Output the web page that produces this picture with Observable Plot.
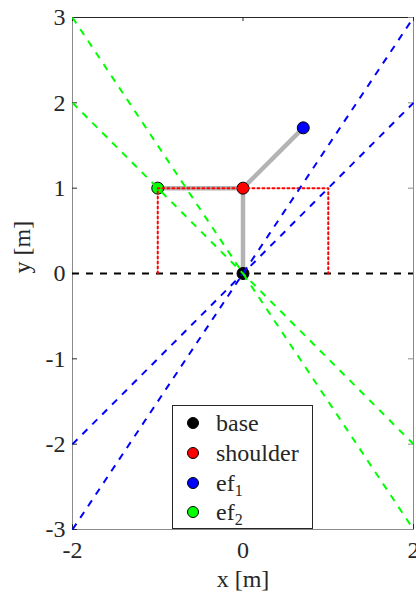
<!DOCTYPE html>
<html>
<head>
<meta charset="utf-8">
<script src="https://cdn.jsdelivr.net/npm/d3@7"></script>
<script src="https://cdn.jsdelivr.net/npm/@observablehq/plot@0.6"></script>
<style>
  html, body { margin: 0; padding: 0; background: #fff; }
  #wrap { position: relative; width: 416px; height: 601px; font-family: "Liberation Serif", serif; }
  #legend { position: absolute; left: 172px; top: 405px; width: 141px; height: 124px; border: 1px solid #262626; background: #fff; box-sizing: border-box; }
  .row { position: absolute; left: 0; height: 30px; display: flex; align-items: center; font-size: 24px; color: #262626; }
  .dot { width: 12px; height: 12px; border-radius: 50%; border: 1px solid #000; box-sizing: border-box; margin-left: 14px; margin-right: 17px; }
  sub { font-size: 16px; vertical-align: -5px; line-height: 0; }
</style>
</head>
<body>
<div id="wrap"><div id="chart"></div><div id="legend"></div></div>
<script>
// joints
const jointNames = ["base", "shoulder", "ef<sub>1</sub>", "ef<sub>2</sub>"];
const jointX = [0, 0, 0.707, -1];
const jointY = [0, 1, 1.707, 1];
const jointColors = ["#000000", "#ff0000", "#0000ff", "#00ff00"];
// links: from joint index to joint index
const linkFrom = [0, 1, 1];
const linkTo = [1, 2, 3];
// red dotted box
const boxX = [-1, -1, 1, 1];
const boxY = [0, 1, 1, 0];
// cone lines (endpoints)
const coneX1 = [-2, -2, -2, -2];
const coneY1 = [-3, -2, 3, 2];
const coneX2 = [2, 2, 2, 2];
const coneY2 = [3, 2, -3, -2];
const coneColors = ["#0000ff", "#0000ff", "#00ff00", "#00ff00"];
// axes
const xDomain = [-2, 2];
const yDomain = [-3, 3];
const xTicks = [-2, 0, 2];
const yTicks = [-3, -2, -1, 0, 1, 2, 3];

const joints = jointX.map((x, i) => ({x, y: jointY[i], c: jointColors[i]}));
const links = linkFrom.map((a, i) => ({x1: jointX[a], y1: jointY[a], x2: jointX[linkTo[i]], y2: jointY[linkTo[i]]}));
const box = boxX.map((x, i) => ({x, y: boxY[i]}));
const cones = coneX1.map((x1, i) => ({x1, y1: coneY1[i], x2: coneX2[i], y2: coneY2[i], c: coneColors[i]}));

const axisColor = "#262626";
const frameColor = "#8c8c8c";
const fmt = d => String(d);

const plot = Plot.plot({
  width: 416,
  height: 601,
  marginLeft: 72,
  marginRight: 3,
  marginTop: 17,
  marginBottom: 72,
  style: {fontFamily: "Liberation Serif, serif", fontSize: "24px", color: axisColor, background: "white"},
  x: {domain: xDomain},
  y: {domain: yDomain},
  marks: [
    Plot.frame({stroke: frameColor, strokeWidth: 1}),
    Plot.ruleY([yDomain[1]], {stroke: axisColor, strokeWidth: 1}),
    Plot.axisY(yTicks, {anchor: "left", tickSize: -5, tickPadding: 12, stroke: axisColor, tickFormat: fmt, fontSize: 24, label: null}),
    Plot.axisX(xTicks, {anchor: "bottom", tickSize: -5, tickPadding: 16, stroke: axisColor, tickFormat: fmt, fontSize: 24, label: null}),
    Plot.ruleY(yTicks, {insetLeft: 336, stroke: frameColor, strokeWidth: 1}),
    Plot.ruleX(xTicks, {insetBottom: 508, stroke: axisColor, strokeWidth: 1}),
    Plot.text(["x [m]"], {frameAnchor: "bottom", dy: 57, fontSize: 24, fill: axisColor}),
    Plot.text(["y [m]"], {frameAnchor: "left", dx: -50, rotate: -90, fontSize: 24, fill: axisColor}),
    Plot.link(links, {x1: "x1", y1: "y1", x2: "x2", y2: "y2", stroke: "#b3b3b3", strokeWidth: 4.5}),
    Plot.dot(joints, {x: "x", y: "y", r: 6, fill: "c", stroke: "black", strokeWidth: 1}),
    Plot.ruleY([0], {stroke: "black", strokeWidth: 2, strokeDasharray: "7,7"}),
    Plot.line(box, {x: "x", y: "y", stroke: "#ff0000", strokeWidth: 2, strokeDasharray: "2,3"}),
    Plot.link(cones, {x1: "x1", y1: "y1", x2: "x2", y2: "y2", stroke: "c", strokeWidth: 2, strokeDasharray: "7,7"})
  ]
});
document.getElementById("chart").appendChild(plot);

const legend = document.getElementById("legend");
const rowTops = [2, 32, 62, 91];
jointNames.forEach((name, i) => {
  const row = document.createElement("div");
  row.className = "row";
  row.style.top = rowTops[i] + "px";
  row.innerHTML = `<span class="dot" style="background:${jointColors[i]}"></span><span>${name}</span>`;
  legend.appendChild(row);
});
</script>
</body>
</html>
